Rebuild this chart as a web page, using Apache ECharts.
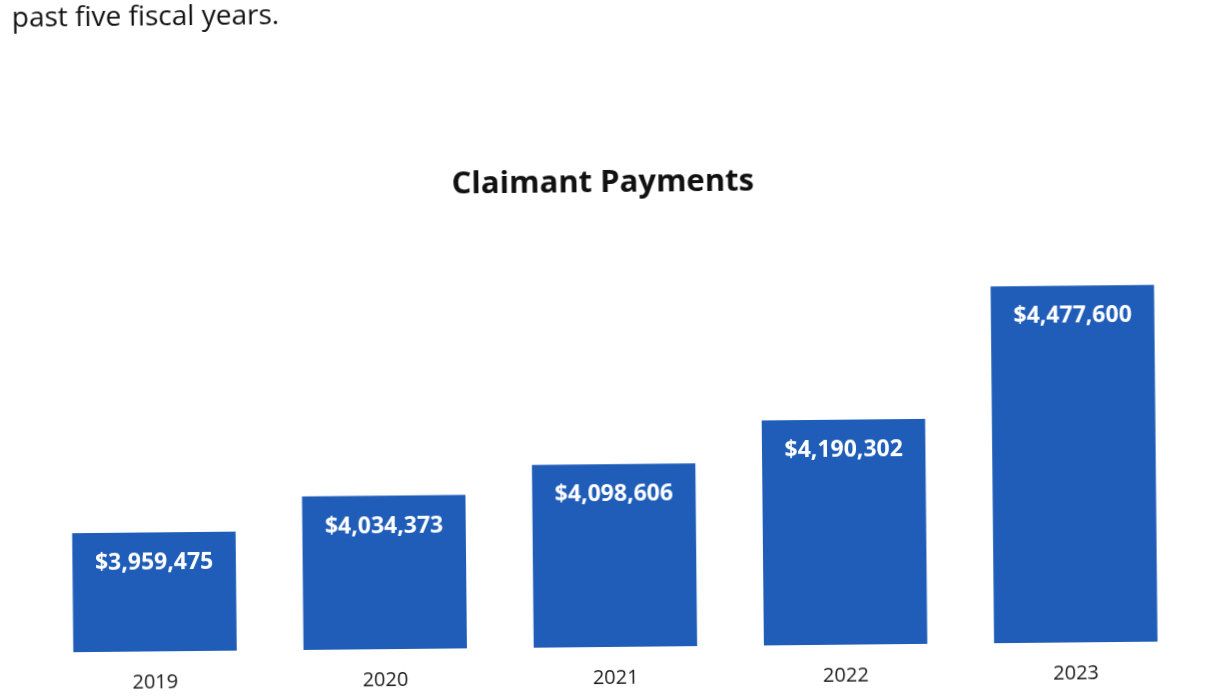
<!DOCTYPE html>
<html>
<head>
<meta charset="utf-8">
<script src="https://cdn.jsdelivr.net/npm/echarts@6/dist/echarts.min.js"></script>
<style>
  html, body { margin: 0; padding: 0; background: #ffffff; overflow: hidden; }
  #chart { width: 1209px; height: 698px; transform: rotate(-0.56deg); transform-origin: 50% 50%; }
</style>
</head>
<body>
<div id="chart"></div>
<script>
// Claimant payments by fiscal year
const years = ['2019', '2020', '2021', '2022', '2023'];
const payments = [3959475, 4034373, 4098606, 4190302, 4477600];

const chart = echarts.init(document.getElementById('chart'), null, { renderer: 'canvas' });

const money = v => '$' + v.toLocaleString('en-US');

chart.setOption({
  backgroundColor: '#ffffff',
  animation: false,
  title: [
    {
      text: 'Claimant Payments',
      left: 'center',
      top: 163,
      textStyle: { fontFamily: 'Open Sans', fontWeight: 'bold', fontSize: 31, color: '#111111' }
    }
  ],
  graphic: [
    {
      type: 'text',
      left: 15,
      top: -1,
      style: {
        text: 'past five fiscal years.',
        font: '28px "Open Sans"',
        fill: '#111111'
      }
    }
  ],
  grid: { left: 37, right: 21, top: 280, bottom: 51 },
  xAxis: {
    type: 'category',
    data: years,
    axisLine: { show: false },
    axisTick: { show: false },
    axisLabel: { margin: 21, fontFamily: 'Open Sans', fontSize: 20, color: '#1a1a1a' }
  },
  yAxis: {
    type: 'value',
    min: 3700000,
    max: 4500000,
    show: false,
    splitLine: { show: false }
  },
  series: [
    {
      type: 'bar',
      data: payments,
      barWidth: '71%',
      itemStyle: { color: '#1f5db8' },
      label: {
        show: true,
        position: 'insideTop',
        distance: 19,
        formatter: p => money(p.value),
        fontFamily: 'Open Sans',
        fontWeight: 'bold',
        fontSize: 23,
        color: '#ffffff'
      }
    }
  ]
});
</script>
</body>
</html>
